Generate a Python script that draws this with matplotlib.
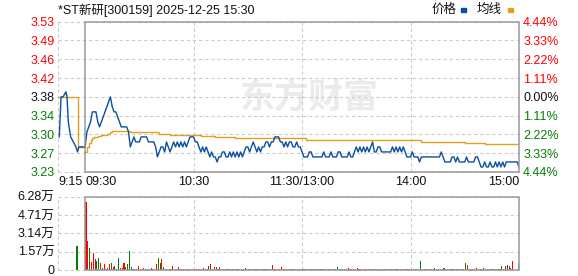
import matplotlib
matplotlib.use("Agg")
import matplotlib.pyplot as plt
from matplotlib.patches import Rectangle

plt.rcParams['font.family'] = ['Liberation Sans', 'Noto Sans CJK SC', 'DejaVu Sans']

# ---- data ----
title = "*ST新研[300159] 2025-12-25 15:30"
prev_close = 3.38
price_labels = ["3.53", "3.49", "3.46", "3.42", "3.38", "3.34", "3.30", "3.27", "3.23"]
pct_labels = ["4.44%", "3.33%", "2.22%", "1.11%", "0.00%", "1.11%", "2.22%", "3.33%", "4.44%"]
pct_steps = [4, 3, 2, 1, 0, -1, -2, -3, -4]
vol_levels = [0, 1.57, 3.14, 4.71, 6.28]
vol_labels = ["0", "1.57万", "3.14万", "4.71万", "6.28万"]
time_pos = [-15, 0, 60, 120, 180, 240]
time_labels = ["9:15", "09:30", "10:30", "11:30/13:00", "14:00", "15:00"]

# call auction 9:15-9:30 (minutes relative to 9:30)
pre_t = [-14.3, -13.3, -12.2, -10.6, -10.0, -9.3, -8.0, -6.5, -5.1, -4.2, -3.5, 0]
pre_price = [3.30, 3.38, 3.38, 3.39, 3.38, 3.33, 3.30, 3.29, 3.28, 3.27, 3.28, 3.28]
pre_avg_t = [-15, -4.2, -4.2, 0]
pre_avg = [3.38, 3.38, 3.28, 3.28]
pre_vol_t = [-4.5]
pre_vol = [2.02]

# one price per minute, 9:30 ... 11:30/13:00 ... 15:00
price = [
    3.28, 3.31, 3.32, 3.33, 3.35, 3.35, 3.35, 3.33, 3.32, 3.33,
    3.34, 3.35, 3.36, 3.37, 3.38, 3.36, 3.35, 3.35, 3.34, 3.33,
    3.32, 3.32, 3.32, 3.32, 3.31, 3.28, 3.29, 3.30, 3.29, 3.29,
    3.29, 3.30, 3.30, 3.30, 3.30, 3.29, 3.29, 3.29, 3.29, 3.28,
    3.26, 3.27, 3.28, 3.28, 3.27, 3.29, 3.28, 3.27, 3.28, 3.29,
    3.28, 3.29, 3.28, 3.29, 3.28, 3.29, 3.28, 3.29, 3.30, 3.30,
    3.30, 3.29, 3.29, 3.28, 3.27, 3.28, 3.27, 3.28, 3.27, 3.26,
    3.27, 3.26, 3.26, 3.25, 3.26, 3.26, 3.27, 3.27, 3.26, 3.26,
    3.27, 3.26, 3.27, 3.26, 3.27, 3.26, 3.27, 3.26, 3.27, 3.28,
    3.28, 3.27, 3.28, 3.29, 3.28, 3.27, 3.28, 3.27, 3.28, 3.28,
    3.29, 3.29, 3.28, 3.29, 3.29, 3.30, 3.30, 3.30, 3.29, 3.29,
    3.28, 3.29, 3.28, 3.29, 3.29, 3.28, 3.28, 3.29, 3.28, 3.28,
    3.27,
    3.26, 3.26, 3.26, 3.27, 3.27, 3.26, 3.26, 3.26, 3.26,
    3.26, 3.26, 3.27, 3.26, 3.26, 3.26, 3.27, 3.26, 3.26, 3.26,
    3.27, 3.27, 3.26, 3.26, 3.26, 3.26, 3.27, 3.26, 3.26, 3.27,
    3.28, 3.27, 3.28, 3.27, 3.28, 3.27, 3.28, 3.27, 3.28, 3.29,
    3.27, 3.27, 3.28, 3.28, 3.27, 3.27, 3.27, 3.27, 3.27, 3.27,
    3.28, 3.27, 3.28, 3.27, 3.28, 3.27, 3.28, 3.27, 3.26, 3.26,
    3.26, 3.27, 3.26, 3.26, 3.26, 3.25, 3.26, 3.26, 3.26, 3.26,
    3.26, 3.26, 3.26, 3.26, 3.26, 3.26, 3.26, 3.27, 3.26, 3.25,
    3.25, 3.25, 3.25, 3.26, 3.26, 3.25, 3.26, 3.25, 3.25, 3.25,
    3.25, 3.26, 3.25, 3.25, 3.25, 3.25, 3.26, 3.26, 3.25, 3.24,
    3.24, 3.25, 3.24, 3.24, 3.25, 3.24, 3.24, 3.25, 3.24, 3.25,
    3.24, 3.25, 3.24, 3.25, 3.25, 3.25, 3.25, 3.25, 3.25, 3.25,
    3.24,
]
minutes = list(range(len(price)))

# average price line (value holds until next point)
avg_t = [0, 1, 2, 3, 4, 5, 7, 9, 12, 14, 15, 24, 25, 33, 41, 47, 64, 72, 83, 122, 186, 210, 221, 232, 240]
avg_v = [3.269, 3.279, 3.287, 3.294, 3.298, 3.300, 3.302, 3.304, 3.306, 3.309, 3.312, 3.312, 3.310,
         3.309, 3.306, 3.304, 3.302, 3.299, 3.297, 3.294, 3.290, 3.288, 3.286, 3.285, 3.285]

# volume per minute (万 shares) and bar colour (r = up, g = down)
volume = [
    5.84, 2.46, 1.85, 0.72, 1.42, 0.98, 0.81, 1.07, 0.64, 0.20,
    0.55, 0.06, 0.20, 0.49, 0.64, 0.29, 0.38, 0.06, 1.07, 0.14,
    0.20, 0.64, 0.29, 0.52, 1.65, 0.29, 0.06, 0.06, 0.08, 0.38,
    0.06, 0.06, 0.20, 0.06, 0.08, 0.06, 0.14, 0.05, 0.08, 0.55,
    1.07, 0.64, 0.98, 0.29, 0.08, 0.06, 0.06, 0.06, 0.38, 0.08,
    0.05, 0.29, 0.05, 0.08, 0.06, 0.08, 0.06, 0.08, 0.06, 0.08,
    0.06, 0.06, 0.05, 0.06, 0.06, 0.21, 0.06, 0.05, 0.32, 0.48,
    0.06, 0.24, 0.24, 0.06, 0.24, 0.05, 0.06, 0.05, 0.06, 0.05,
    0.06, 0.05, 0.06, 0.05, 0.06, 0.05, 0.06, 0.05, 0.16, 0.05,
    0.06, 0.05, 0.06, 0.05, 0.06, 0.05, 0.06, 0.05, 0.06, 0.05,
    0.06, 0.05, 0.06, 0.40, 0.06, 0.05, 0.06, 0.05, 0.24, 0.05,
    0.06, 0.05, 0.06, 0.05, 0.06, 0.05, 0.06, 0.05, 0.06, 0.05,
    0.06, 0.05, 0.06, 0.05, 0.06, 0.05, 0.06, 0.05, 0.06, 0.05,
    0.06, 0.05, 0.06, 0.05, 0.06, 0.05, 0.06, 0.05, 0.06, 0.24,
    0.06, 0.05, 0.06, 0.05, 0.06, 0.13, 0.06, 0.05, 0.06, 0.05,
    0.13, 0.05, 0.06, 0.05, 0.06, 0.05, 0.06, 0.05, 0.06, 0.05,
    0.06, 0.05, 0.06, 0.05, 0.06, 0.05, 0.06, 0.05, 0.06, 0.05,
    0.06, 0.05, 0.06, 0.05, 0.06, 0.05, 0.06, 0.05, 0.06, 0.05,
    0.08, 0.05, 0.06, 0.05, 0.06, 0.80, 0.06, 0.05, 0.06, 0.05,
    0.06, 0.05, 0.06, 0.16, 0.06, 0.05, 0.06, 0.05, 0.16, 0.05,
    0.06, 0.05, 0.06, 0.05, 0.06, 0.05, 0.06, 0.05, 0.06, 0.05,
    0.64, 0.40, 0.06, 0.05, 0.06, 0.05, 0.16, 0.05, 0.06, 0.05,
    0.16, 0.06, 0.06, 0.05, 0.06, 0.05, 0.06, 0.05, 0.06, 0.05,
    0.32, 0.06, 0.37, 0.40, 0.32, 0.13, 0.80, 0.00, 0.00, 0.58,
]
vol_dir = (
    "rrgrrrggrg" "rrrrgrgrgr" "rrrgggrrgr" "rrrrgrrgrr" "ggrrrgrgrr"
    "grgrrgrrgr" "rgrgrrrggr" "grgrrrgrgr" "rgrrgrgrrg" "rgrrgrrgrr"
    "rgrrgrrrrg" "rrgrrgrrgr" "grrgrrgrrr" "rgrrgrrrrg" "rrgrrrgrrr"
    "rgrrgrrgrr" "rgrrrgrrgr" "rrgrrgrrrr" "rrrgrgrrrr" "rrrrgrrrgr"
    "rrrgrrgrrr" "grrgrrrrgr" "ggrrgrrgrr" "grrgrrrrrg"
)

# ---- style ----
blue = '#0b4fa0'
orange = '#e0a020'
red = '#ff0000'
green = '#008000'
grid_c = '#cccccc'
frame_c = '#999999'
dash = (3, 2.5)

fig = plt.figure(figsize=(5.78, 2.76), dpi=100)
W, H = 578, 276
ax = fig.add_axes([58 / W, 1 - 172 / H, 461 / W, 150.3 / H])
axv = fig.add_axes([58 / W, 1 - 270 / H, 461 / W, 73.3 / H])

levels = [prev_close * (1 + k * 0.0111) for k in pct_steps]
lo, hi = levels[-1], levels[0]

# price panel
ax.set_xlim(-15, 240)
ax.set_ylim(lo, hi)
for s in ax.spines.values():
    s.set_visible(False)
for y in levels:
    ax.axhline(y, color=grid_c, lw=0.8, dashes=dash, zorder=1, clip_on=False)
for x in [-15, 60, 120, 180]:
    ax.axvline(x, color=grid_c, lw=0.8, dashes=dash, zorder=1, clip_on=False)
ax.add_patch(Rectangle((0, lo), 240, hi - lo, fill=False, edgecolor=frame_c, lw=1.1,
                       zorder=5, clip_on=False))

ax.text(0.545, 0.50, "东方财富", transform=ax.transAxes, ha='center', va='center',
        fontsize=25, fontweight='bold', color='#ebebeb', family=['Noto Sans CJK SC'], zorder=0.5)

ax.plot(pre_avg_t, pre_avg, color=orange, lw=1.0, zorder=3)
ax.plot(avg_t, avg_v, color=orange, lw=1.0, drawstyle='steps-post', zorder=3)
ax.plot(pre_t, pre_price, color=blue, lw=1.0, zorder=4)
ax.plot(minutes, price, color=blue, lw=1.0, zorder=4)

ax.set_xticks([])
ax.set_yticks(levels)
ax.set_yticklabels(price_labels, fontsize=9)
ax.tick_params(axis='y', length=0, pad=2.5)
for lab, k in zip(ax.get_yticklabels(), pct_steps):
    lab.set_color(red if k > 0 else (green if k < 0 else '#111111'))

ax2 = ax.twinx()
ax2.set_ylim(lo, hi)
for s in ax2.spines.values():
    s.set_visible(False)
ax2.set_yticks(levels)
ax2.set_yticklabels(pct_labels, fontsize=9)
ax2.tick_params(axis='y', length=0, pad=3)
for lab, k in zip(ax2.get_yticklabels(), pct_steps):
    lab.set_color(red if k > 0 else (green if k < 0 else '#111111'))

aligns = ['left', 'left', 'center', 'center', 'center', 'right']
for x, t, a in zip(time_pos, time_labels, aligns):
    ax.text(x, -0.068, t, transform=ax.get_xaxis_transform(), ha=a, va='center',
            fontsize=9, color='#111111')

# volume panel
axv.set_xlim(-15, 240)
axv.set_ylim(0, 6.28)
for s in axv.spines.values():
    s.set_visible(False)
for y in vol_levels:
    axv.axhline(y, color=grid_c, lw=0.8, dashes=dash, zorder=1, clip_on=False)
for x in [-15, 60, 120, 180]:
    axv.axvline(x, color=grid_c, lw=0.8, dashes=dash, zorder=1, clip_on=False)
axv.add_patch(Rectangle((0, 0), 240, 6.28, fill=False, edgecolor=frame_c, lw=1.1,
                        zorder=5, clip_on=False))
bar_x = [m + 0.5 for m in range(len(volume))]
bar_c = [red if c == 'r' else green for c in vol_dir]
axv.bar(bar_x, volume, width=0.6, color=bar_c, zorder=3)
axv.bar(pre_vol_t, pre_vol, width=0.6, color=green, zorder=3)
axv.set_xticks([])
axv.set_yticks(vol_levels)
axv.set_yticklabels(vol_labels, fontsize=9, color='#111111')
axv.tick_params(axis='y', length=0, pad=2.5)

# title and legend
fig.text(58 / W, 1 - 10 / H, title, ha='left', va='center', fontsize=9, color='#111111')
fig.text(432 / W, 1 - 10 / H, "价格", ha='left', va='center', fontsize=9, color='#111111')
fig.patches.append(Rectangle((461 / W, 1 - 11.5 / H), 5 / W, 3 / H, color=blue,
                             transform=fig.transFigure, figure=fig))
fig.text(477 / W, 1 - 10 / H, "均线", ha='left', va='center', fontsize=9, color='#111111')
fig.patches.append(Rectangle((508 / W, 1 - 11.5 / H), 5 / W, 3 / H, color=orange,
                             transform=fig.transFigure, figure=fig))

fig.savefig("out.png", dpi=100)
